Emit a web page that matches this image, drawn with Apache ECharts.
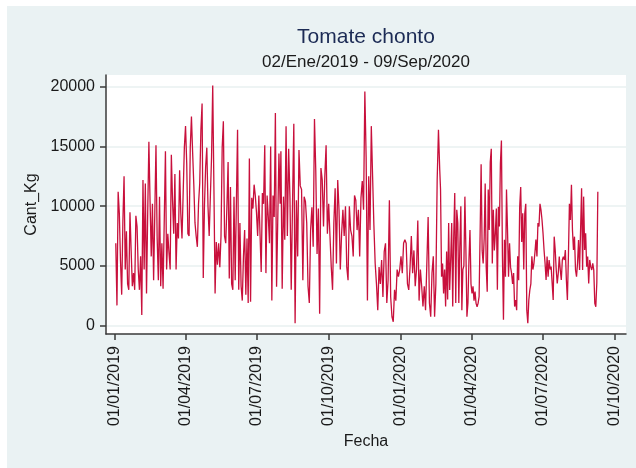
<!DOCTYPE html>
<html><head><meta charset="utf-8">
<script src="https://cdn.jsdelivr.net/npm/echarts@6/dist/echarts.min.js"></script>
<style>
html,body{margin:0;padding:0;background:#fff;}
#bg{position:absolute;left:7px;top:6px;width:629px;height:462px;background:#eaf2f3;}
#c{position:absolute;left:0;top:0;width:636px;height:468px;}
</style>
</head><body><div id="bg"></div><div id="c"></div>
<script>
const titulo = 'Tomate chonto';
const subtitulo = '02/Ene/2019 - 09/Sep/2020';
const nombreY = 'Cant_Kg';
const nombreX = 'Fecha';
// tick labels and their day offsets counted from 01/01/2019
const etiquetasFecha = ['01/01/2019','01/04/2019','01/07/2019','01/10/2019','01/01/2020','01/04/2020','01/07/2020','01/10/2020'];
const diasFecha = [0, 90, 181, 273, 365, 456, 547, 639];
const ticksY = [0, 5000, 10000, 15000, 20000];

// daily quantities (kg), in three consecutive stretches
const tramoDias = [[1, 211], [212, 415], [416, 617]];
const valores1 = [6900,1700,11200,9400,5400,2600,8700,12500,4700,7900,3500,3000,9500,6300,3300,4400,3000,9200,8300,4700,3000,5800,900,12200,4700,11900,2700,9400,15400,10400,5800,10200,3800,9400,15100,7300,3800,10800,3300,6900,3100,8800,14600,4700,7700,6100,4700,14300,10500,7700,12700,4700,8600,7300,13000,9400,7300,11100,14900,16700,13600,7700,7500,14900,17500,14500,11800,8600,7500,6600,10200,11900,16400,18600,4000,10000,13300,14900,10000,7500,7500,14100,20100,11600,2700,7000,5100,6900,4900,7500,14900,17100,7500,6900,10000,13700,3960,11600,3500,3000,10800,3800,10200,16400,3000,8600,3300,2100,5800,8000,2600,7300,1900,14000,2000,10700,9800,11800,10900,9500,7500,10900,7700,4500,11100,10200,15100,4400,10900,9100,6900,15000,2100,10900,9100,17800,3260,8800,14400,10200];
const valores2 = [14600,3100,10800,7200,16700,7500,14800,10800,3000,10200,16900,200,10500,5800,14700,11700,11400,3800,10800,10400,8600,3300,1900,8000,9900,6600,17300,13000,6000,9800,1000,13200,12200,8300,12500,15100,7700,10200,7500,4900,3000,8600,11500,5200,12200,9700,4700,7700,9700,7500,10000,4900,3800,10000,8000,7500,5800,10900,10500,8000,9700,5800,10700,12100,9700,19600,14100,2100,12500,8000,16700,12500,8400,5200,3500,1300,4900,3500,5500,2400,6200,6900,1900,3800,10500,2400,750,330,3000,2100,4700,4100,4700,5800,4400,6900,7200,6900,3500,3000,4900,7500,4400,6300,3300,4700,8800,2100,4700,3300,1600,3300,1300,5200,9100,1900,750,4400,5800,750,3500,12200,16400,13000];
const valores3 = [11400,4100,5200,2700,4700,1600,6200,2200,8600,2990,5500,8600,1600,7500,11100,1900,9700,8600,1900,6600,10000,1300,4700,5000,10800,6300,750,1900,5500,8000,3500,2700,3300,2100,2850,1870,1590,1870,2430,7700,13500,6300,5200,7300,11900,4900,2850,11400,8000,13700,14800,5200,9700,6300,7700,9800,3000,9960,8300,13600,15500,5800,500,7200,4100,11400,8000,4100,6900,4900,4400,3500,4400,1600,2150,1300,5800,3800,9960,11600,7000,9400,4700,9400,10200,1300,200,2150,3000,3500,5800,4700,5200,6100,7200,5800,8600,8300,10200,9680,8840,7730,6330,5220,3820,5780,4100,5500,4700,4940,3540,2150,7450,6330,4660,3540,4380,5780,4660,3820,5500,5780,5500,6330,3820,2150,5780,10200,8840,11800,8010,6330,7450,4660,4100,5220,7170,4660,8010,11500,4660,10800,6330,7730,4940,5780,3540,5500,4940,4660,5220,4660,1870,1590,3600,11200];

const tramos = [valores1, valores2, valores3];
const datos = [];
tramos.forEach((vals, k) => {
  const [d0, d1] = tramoDias[k];
  const n = vals.length;
  vals.forEach((v, i) => {
    datos.push([d0 + (d1 - d0) * i / (n - 1), v]);
  });
});

const chart = echarts.init(document.getElementById('c'), null, {renderer: 'canvas'});
const fuente = '"Liberation Sans", Arial, sans-serif';
chart.setOption({
  backgroundColor: 'transparent',
  animation: false,
  graphic: [
    {type: 'text', x: 366, y: 37, style: {text: titulo, font: '21px ' + fuente, fill: '#1c2b55', textAlign: 'center', textVerticalAlign: 'middle'}},
    {type: 'text', x: 366, y: 62, style: {text: subtitulo, font: '17px ' + fuente, fill: '#1a1a1a', textAlign: 'center', textVerticalAlign: 'middle'}}
  ],
  grid: {left: 106, right: 10, top: 75, bottom: 134, show: true, backgroundColor: '#ffffff', borderWidth: 0},
  xAxis: {
    type: 'value', min: -11.5, max: 653,
    name: nombreX, nameLocation: 'middle', nameGap: 100,
    nameTextStyle: {fontFamily: fuente, fontSize: 16, color: '#1a1a1a'},
    axisLine: {show: true, onZero: false, lineStyle: {color: '#3a3a3a', width: 1.5}},
    axisTick: {show: true, length: 6, customValues: diasFecha, lineStyle: {color: '#3a3a3a', width: 1.5}},
    axisLabel: {customValues: diasFecha, rotate: 90, margin: 12, fontFamily: fuente, fontSize: 16, color: '#1a1a1a',
      formatter: v => etiquetasFecha[diasFecha.indexOf(v)] || ''},
    splitLine: {show: false}
  },
  yAxis: {
    type: 'value', min: -695, max: 20979,
    name: nombreY, nameLocation: 'middle', nameGap: 60, nameRotate: 90,
    nameTextStyle: {fontFamily: fuente, fontSize: 16, color: '#1a1a1a'},
    axisLine: {show: true, onZero: false, lineStyle: {color: '#3a3a3a', width: 1.5}},
    axisTick: {show: true, length: 6, customValues: ticksY, lineStyle: {color: '#3a3a3a', width: 1.5}},
    axisLabel: {customValues: ticksY, margin: 11, fontFamily: fuente, fontSize: 16, color: '#1a1a1a', formatter: v => String(v)},
    splitLine: {show: true, customValues: ticksY, lineStyle: {color: '#e8f0f0', width: 1.5}}
  },
  series: [{
    type: 'line', data: datos, showSymbol: false, symbol: 'none',
    lineStyle: {color: '#c8103c', width: 1.3}, itemStyle: {color: '#c8103c'}, z: 3
  }]
});
</script>
</body></html>
